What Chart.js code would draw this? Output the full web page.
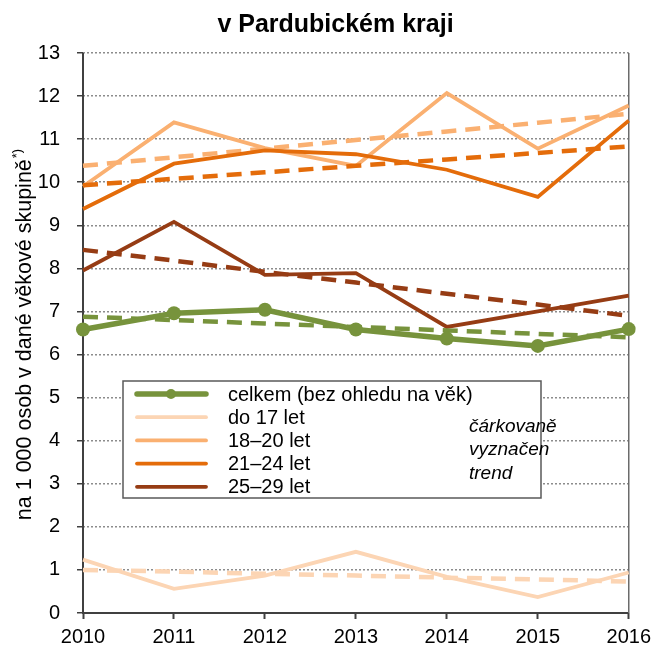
<!DOCTYPE html>
<html>
<head>
<meta charset="utf-8">
<script src="https://cdn.jsdelivr.net/npm/chart.js@4"></script>
<style>
  html, body { margin: 0; padding: 0; background: #fff; }
  #wrap { width: 657px; height: 652px; }
</style>
</head>
<body>
<div id="wrap"><canvas id="chart" width="657" height="652"></canvas></div>
<script>
// Data
const years = ["2010", "2011", "2012", "2013", "2014", "2015", "2016"];

const celkem = [6.58, 6.96, 7.04, 6.58, 6.37, 6.2, 6.59];
const do17 = [1.24, 0.56, 0.87, 1.42, 0.84, 0.37, 0.94];
const let18_20 = [9.9, 11.39, 10.79, 10.38, 12.07, 10.78, 11.78];
const let21_24 = [9.38, 10.43, 10.74, 10.65, 10.29, 9.66, 11.43];
const let25_29 = [7.95, 9.08, 7.85, 7.89, 6.64, 7.0, 7.37];

// dashed trend lines
const celkemTrend = [6.88, 6.8, 6.72, 6.64, 6.56, 6.48, 6.4];
const do17Trend = [1.0, 0.96, 0.91, 0.87, 0.82, 0.78, 0.73];
const let18_20Trend = [10.38, 10.58, 10.78, 10.98, 11.18, 11.38, 11.59];
const let21_24Trend = [9.93, 10.08, 10.23, 10.38, 10.53, 10.68, 10.83];
const let25_29Trend = [8.43, 8.18, 7.92, 7.67, 7.41, 7.16, 6.9];

const seriesNames = [
  "celkem (bez ohledu na věk)",
  "do 17 let",
  "18–20 let",
  "21–24 let",
  "25–29 let",
];
const colors = ["#77933C", "#FCD5B4", "#FAB071", "#E46C0A", "#963C14"];
const noteLines = ["čárkovaně", "vyznačen", "trend"];
const yTitle = "na 1 000 osob v dané věkové skupině";

const FONT = "'Liberation Sans', Arial, sans-serif";

function solid(label, data, color, width) {
  return {
    label: label,
    data: data,
    borderColor: color,
    backgroundColor: color,
    borderWidth: width,
    pointRadius: 0,
    tension: 0,
  };
}
function dashed(data, color) {
  return {
    label: "trend",
    data: data,
    borderColor: color,
    borderWidth: 4.5,
    borderDash: [15, 9],
    pointRadius: 0,
    tension: 0,
  };
}

const datasets = [
  Object.assign(solid(seriesNames[0], celkem, colors[0], 5.5), {
    pointRadius: 7,
    pointBackgroundColor: colors[0],
    pointBorderWidth: 0,
  }),
  dashed(celkemTrend, colors[0]),
  solid(seriesNames[4], let25_29, colors[4], 3.8),
  dashed(let25_29Trend, colors[4]),
  solid(seriesNames[3], let21_24, colors[3], 3.8),
  dashed(let21_24Trend, colors[3]),
  solid(seriesNames[2], let18_20, colors[2], 3.8),
  dashed(let18_20Trend, colors[2]),
  solid(seriesNames[1], do17, colors[1], 3.8),
  dashed(do17Trend, colors[1]),
];

// axis lines and plot frame
const framePlugin = {
  id: "frame",
  beforeDatasetsDraw(chart) {
    const { ctx, chartArea: a } = chart;
    ctx.save();
    ctx.strokeStyle = "#404040";
    ctx.lineWidth = 2;
    ctx.beginPath();
    ctx.moveTo(a.left, a.top);
    ctx.lineTo(a.left, a.bottom);
    ctx.lineTo(a.right, a.bottom);
    ctx.stroke();
    ctx.strokeStyle = "#6b6b6b";
    ctx.lineWidth = 1.5;
    ctx.beginPath();
    ctx.moveTo(a.right, a.top);
    ctx.lineTo(a.right, a.bottom);
    ctx.stroke();
    ctx.restore();
  },
};

// legend box drawn inside the plot
const legendPlugin = {
  id: "boxLegend",
  afterDatasetsDraw(chart) {
    const { ctx } = chart;
    const x0 = 123, y0 = 381, w = 418, h = 117;
    ctx.save();
    ctx.fillStyle = "#fff";
    ctx.fillRect(x0, y0, w, h);
    ctx.strokeStyle = "#595959";
    ctx.lineWidth = 1.5;
    ctx.strokeRect(x0, y0, w, h);
    ctx.font = "20px " + FONT;
    ctx.textBaseline = "middle";
    ctx.lineCap = "round";
    seriesNames.forEach((name, i) => {
      const y = y0 + 13 + i * 23.2;
      ctx.strokeStyle = colors[i];
      ctx.lineWidth = i === 0 ? 5.5 : 3.8;
      ctx.beginPath();
      ctx.moveTo(x0 + 14, y);
      ctx.lineTo(x0 + 83, y);
      ctx.stroke();
      if (i === 0) {
        ctx.fillStyle = colors[0];
        ctx.beginPath();
        ctx.arc(x0 + 48, y, 5, 0, Math.PI * 2);
        ctx.fill();
      }
      ctx.fillStyle = "#000";
      ctx.fillText(name, x0 + 105, y + 1);
    });
    ctx.font = "italic 19px " + FONT;
    noteLines.forEach((t, i) => {
      ctx.fillText(t, x0 + 346, y0 + 46 + i * 23.2);
    });
    ctx.restore();
  },
};

// rotated y axis title with superscript *)
const yTitlePlugin = {
  id: "yTitle",
  afterDraw(chart) {
    const { ctx } = chart;
    ctx.save();
    ctx.translate(25, 335);
    ctx.rotate(-Math.PI / 2);
    ctx.font = "21.5px " + FONT;
    const w1 = ctx.measureText(yTitle).width;
    ctx.font = "13px " + FONT;
    const w2 = ctx.measureText("*)").width;
    const start = -(w1 + w2) / 2;
    ctx.fillStyle = "#000";
    ctx.textBaseline = "middle";
    ctx.textAlign = "left";
    ctx.font = "21.5px " + FONT;
    ctx.fillText(yTitle, start, 0);
    ctx.font = "13px " + FONT;
    ctx.fillText("*)", start + w1 + 1, -8);
    ctx.restore();
  },
};

new Chart(document.getElementById("chart").getContext("2d"), {
  type: "line",
  data: { labels: years, datasets: datasets },
  options: {
    responsive: false,
    animation: false,
    layout: { padding: { left: 38, right: 24, top: 0, bottom: 0 } },
    plugins: {
      legend: { display: false },
      tooltip: { enabled: false },
      title: {
        display: true,
        text: "v Pardubickém kraji",
        color: "#000",
        font: { family: FONT, size: 25, weight: "bold" },
        padding: { top: 10, bottom: 13 },
      },
    },
    scales: {
      x: {
        offset: false,
        afterFit: (s) => { s.height = 39; },
        grid: {
          display: true,
          drawOnChartArea: false,
          tickLength: 6,
          tickColor: "#404040",
          tickWidth: 2,
        },
        border: { display: false },
        ticks: {
          color: "#000",
          padding: 6,
          maxRotation: 0,
          font: { family: FONT, size: 20 },
        },
      },
      y: {
        min: 0,
        max: 13,
        afterFit: (s) => { s.width = 45; },
        grid: {
          color: "#8c8c8c",
          lineWidth: 1.5,
          tickLength: 6,
          tickColor: "#404040",
          tickWidth: 1.5,
          tickBorderDash: [],
        },
        border: { display: false, dash: [2, 2] },
        ticks: {
          stepSize: 1,
          color: "#000",
          padding: 17,
          font: { family: FONT, size: 20 },
        },
      },
    },
  },
  plugins: [framePlugin, legendPlugin, yTitlePlugin],
});
</script>
</body>
</html>
